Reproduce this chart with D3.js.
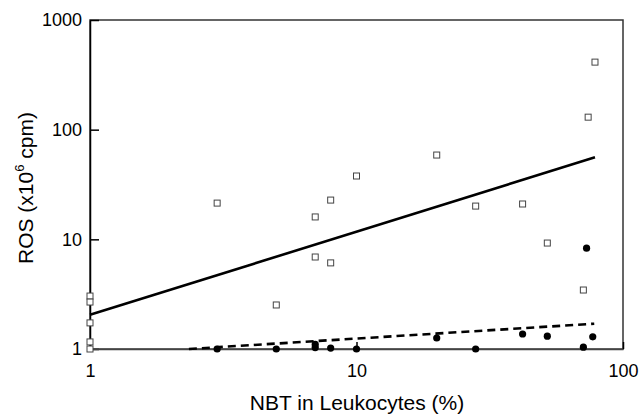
<!DOCTYPE html>
<html>
<head>
<meta charset="utf-8">
<script src="https://cdn.jsdelivr.net/npm/d3@7"></script>
<style>
  body { margin: 0; background: #fff; }
  text { font-family: "Liberation Sans", Arial, Helvetica, sans-serif; fill: #000; }
</style>
</head>
<body>
<svg width="640" height="415"></svg>
<script>
// open squares: ROS vs NBT
const squareX = [1, 1, 1, 1, 1, 3, 5, 7, 7, 8, 8, 10, 20, 28, 42, 52, 71, 74, 78.5]
const squareY = [3.04, 2.68, 1.73, 1.16, 1.0, 21.4, 2.52, 16.0, 6.9, 22.8, 6.1, 37.8, 58.7, 20.1, 21, 9.25, 3.45, 130, 413]

// filled circles
const circleX = [3, 5, 7, 7, 8, 10, 20, 28, 42, 52, 71, 77, 73]
const circleY = [1.0, 1.0, 1.03, 1.1, 1.02, 1.0, 1.26, 1.0, 1.37, 1.31, 1.04, 1.29, 8.3]

// regression lines (end points)
const solidFit = [[1, 2.05], [78.5, 56]]
const dashedFit = [[2.35, 1.0], [78, 1.7]]

const xTicks = [1, 10, 100]
const yTicks = [1, 10, 100, 1000]

const margin = {left: 90, top: 20, right: 17, bottom: 66}
const W = 640, H = 415

const svg = d3.select("svg")

const x = d3.scaleLog().domain([1, 100]).range([margin.left, W - margin.right])
const y = d3.scaleLog().domain([1, 1000]).range([H - margin.bottom, margin.top])

// frame
svg.append("rect")
    .attr("x", margin.left).attr("y", margin.top)
    .attr("width", W - margin.right - margin.left)
    .attr("height", H - margin.bottom - margin.top)
    .attr("fill", "none")
    .attr("stroke", "#333")
    .attr("stroke-width", 1.5)

const yAxis = svg.append("g")
    .attr("transform", `translate(${margin.left},0)`)
    .call(d3.axisLeft(y).tickValues(yTicks).tickFormat(d3.format("d")).tickSize(-9).tickPadding(8).tickSizeOuter(0))
yAxis.select(".domain").attr("stroke", "#000").attr("stroke-width", 1.5)
yAxis.selectAll(".tick line").attr("stroke", "#000").attr("stroke-width", 1.5)
yAxis.selectAll("text").attr("font-size", 18)

const xAxis = svg.append("g")
    .attr("transform", `translate(0,${H - margin.bottom})`)
    .call(d3.axisBottom(x).tickValues(xTicks).tickFormat(d3.format("d")).tickSize(-7).tickPadding(15).tickSizeOuter(0))
xAxis.select(".domain").attr("stroke", "#444").attr("stroke-width", 1.5)
xAxis.selectAll(".tick line").attr("stroke", "#000").attr("stroke-width", 1.5)
xAxis.selectAll("text").attr("font-size", 18)

// fit lines
const line = d3.line().x(d => x(d[0])).y(d => y(d[1]))
svg.append("path").datum(solidFit)
    .attr("d", line).attr("fill", "none").attr("stroke", "#000").attr("stroke-width", 2.6)
svg.append("path").datum(dashedFit)
    .attr("d", line).attr("fill", "none").attr("stroke", "#000").attr("stroke-width", 2.6)
    .attr("stroke-dasharray", "8,5")

// squares
svg.selectAll("rect.sq")
    .data(d3.zip(squareX, squareY))
    .join("rect")
    .attr("class", "sq")
    .attr("x", d => x(d[0]) - 3)
    .attr("y", d => y(d[1]) - 3)
    .attr("width", 6).attr("height", 6)
    .attr("fill", "#fff")
    .attr("stroke", "#444")
    .attr("stroke-width", 1)

// circles
svg.selectAll("circle")
    .data(d3.zip(circleX, circleY))
    .join("circle")
    .attr("cx", d => x(d[0]))
    .attr("cy", d => y(d[1]))
    .attr("r", 3.6)
    .attr("fill", "#000")

// titles
svg.append("text")
    .attr("x", 357).attr("y", 410)
    .attr("text-anchor", "middle")
    .attr("font-size", 21)
    .text("NBT in Leukocytes (%)")

const yt = svg.append("text")
    .attr("transform", "translate(33,188) rotate(-90)")
    .attr("text-anchor", "middle")
    .attr("font-size", 21)
yt.append("tspan").text("ROS (x10")
yt.append("tspan").attr("font-size", 13).attr("dy", -9).text("6")
yt.append("tspan").attr("dy", 9).text(" cpm)")
</script>
</body>
</html>
